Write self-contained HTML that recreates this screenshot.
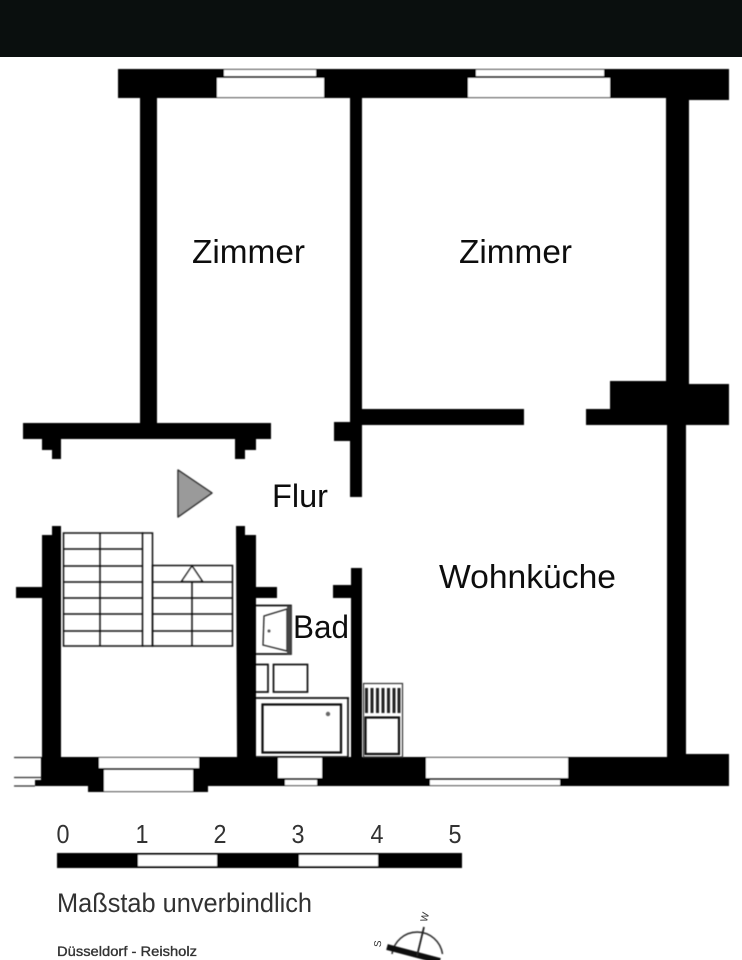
<!DOCTYPE html>
<html><head><meta charset="utf-8">
<style>
html,body{margin:0;padding:0;background:#fff;width:742px;height:960px;overflow:hidden}
svg{display:block}
text{font-family:"Liberation Sans",sans-serif;fill:#111}
.g text,text.g{fill:#333}
</style></head><body>
<svg width="742" height="960" viewBox="0 0 742 960" xmlns="http://www.w3.org/2000/svg">
<defs>
<filter id="b" x="-2%" y="-2%" width="104%" height="104%"><feGaussianBlur stdDeviation="0.45"/></filter>
<filter id="t" x="-5%" y="-5%" width="110%" height="110%"><feGaussianBlur stdDeviation="0.3"/></filter>
</defs>
<rect x="0" y="0" width="742" height="57" fill="#0a0f0e"/>
<g filter="url(#b)">
<!-- top wall -->
<path d="M118 69H729V100H689V98H118Z" fill="#000"/>
<rect x="217" y="78" width="107" height="19" fill="#fff"/>
<rect x="224" y="70" width="92" height="6" fill="#fff"/>
<rect x="468" y="78" width="142" height="19" fill="#fff"/>
<rect x="476" y="70" width="128" height="6" fill="#fff"/>
<!-- vertical walls -->
<rect x="140" y="97" width="17" height="328" fill="#000"/>
<rect x="350" y="97" width="12" height="400" fill="#000"/>
<rect x="666" y="97" width="23" height="290" fill="#000"/>
<rect x="667" y="420" width="19" height="340" fill="#000"/>
<!-- left T -->
<rect x="23" y="423" width="248" height="16" fill="#000"/>
<rect x="42" y="438" width="19" height="12" fill="#000"/>
<rect x="52" y="449" width="9" height="10" fill="#000"/>
<rect x="235" y="438" width="21" height="12" fill="#000"/>
<rect x="235" y="449" width="10" height="10" fill="#000"/>
<!-- centre stubs -->
<rect x="334" y="422" width="18" height="19" fill="#000"/>
<rect x="351" y="568" width="11" height="190" fill="#000"/>
<rect x="333" y="585" width="19" height="13" fill="#000"/>
<!-- horizontal wall -->
<rect x="361" y="409" width="163" height="16" fill="#000"/>
<path d="M586 409H610V381H666V384H729V425H586Z" fill="#000"/>
<!-- stair walls -->
<path d="M52 526H61V758H42V535H52Z" fill="#000"/>
<rect x="16" y="587" width="27" height="11" fill="#000"/>
<path d="M236 526H245V535H256V758H237Z" fill="#000"/>
<rect x="255" y="587" width="22" height="11" fill="#000"/>
<!-- bottom wall -->
<path d="M41 757H667V757H686V754H729V786H208V792H88V786H35V780H41Z" fill="#000"/>
<rect x="99" y="758" width="100" height="10" fill="#fff"/>
<rect x="104" y="770" width="89" height="21" fill="#fff"/>
<rect x="278" y="758" width="44" height="20" fill="#fff"/>
<rect x="285" y="780" width="32" height="5" fill="#fff"/>
<rect x="426" y="758" width="142" height="20" fill="#fff"/>
<rect x="430" y="780" width="130" height="5" fill="#fff"/>
<g stroke="#333" stroke-width="1.3" fill="none">
<path d="M14 757.500H41M14 777.500H41M14 786H35"/>
</g>
<!-- stairs -->
<g stroke="#111" stroke-width="1.5" fill="none">
<rect x="63.500" y="533" width="79" height="113"/>
<path d="M100 533V646"/>
<path d="M63 549H142M63 566H142M63 582H142M63 598H142M63 614H142M63 631H142"/>
<path d="M142 533H152.500V646H142"/>
<rect x="152.500" y="565.500" width="80" height="80.500"/>
<path d="M152 582H232M152 598H232M152 614H232M152 631H232"/>
<path d="M192 566V646"/>
<path d="M192 566L181.500 581.500H202.500Z" fill="#fff"/>
</g>
<polygon points="178,470 212,493 178,517" fill="#9a9a9a" stroke="#333" stroke-width="1.5" stroke-linejoin="round"/>
<!-- Bad fixtures -->
<g stroke="#111" stroke-width="1.7" fill="none">
<path d="M256 605.500H291V654H256"/>
<path d="M264 616L287 609V651L263 645Z" stroke="#222" stroke-width="1.3"/>
<path d="M256 664.500H268V692H256"/>
<rect x="273.500" y="664.500" width="34" height="27.500"/>
<path d="M256 698H349"/>
<path d="M256 757H348V698"/>
<rect x="262.500" y="704.500" width="78.500" height="48" stroke-width="2.200"/>
</g>
<rect x="287" y="606" width="4" height="48" fill="#444"/>
<circle cx="269" cy="631" r="1.500" fill="#555"/>
<circle cx="328" cy="714" r="2.200" fill="#666"/>
<!-- kitchen -->
<rect x="363.500" y="683.500" width="39" height="73.500" fill="none" stroke="#333" stroke-width="1.200"/>
<g fill="#222">
<rect x="365" y="688" width="3" height="25"/><rect x="370.500" y="688" width="3" height="25"/><rect x="376" y="688" width="3" height="25"/><rect x="381.500" y="688" width="3" height="25"/><rect x="387" y="688" width="3" height="25"/><rect x="392.500" y="688" width="3" height="25"/><rect x="397.500" y="688" width="3" height="25"/>
</g>
<rect x="365.500" y="717.500" width="33.500" height="36.500" fill="none" stroke="#111" stroke-width="2.200"/>
<!-- scale -->
<rect x="57" y="853" width="405" height="15" fill="#000"/>
<rect x="138" y="855" width="79" height="11" fill="#fff"/>
<rect x="299" y="855" width="79" height="11" fill="#fff"/>
<!-- compass -->
<path d="M392 960A25.500 25.500 0 0 1 442.500 960" fill="none" stroke="#333" stroke-width="1.600" transform="translate(0 -6)"/>
<path d="M387 947L440 961" stroke="#111" stroke-width="6" fill="none"/>
<path d="M424 927L417 956" stroke="#222" stroke-width="1.800" fill="none"/>
</g>
<!-- labels -->
<g font-size="33.500" filter="url(#t)">
<text x="192" y="263" textLength="113" lengthAdjust="spacingAndGlyphs">Zimmer</text>
<text x="459" y="263" textLength="113" lengthAdjust="spacingAndGlyphs">Zimmer</text>
<text x="272" y="507" font-size="32.500" textLength="56" lengthAdjust="spacingAndGlyphs">Flur</text>
<text x="439" y="588" textLength="177" lengthAdjust="spacingAndGlyphs">Wohnküche</text>
<text x="293" y="638" font-size="32" textLength="56" lengthAdjust="spacingAndGlyphs">Bad</text>
</g>
<g class="g" font-size="26" filter="url(#t)">
<text x="56.500" y="843" textLength="13" lengthAdjust="spacingAndGlyphs">0</text>
<text x="135.500" y="843" textLength="13" lengthAdjust="spacingAndGlyphs">1</text>
<text x="213.500" y="843" textLength="13" lengthAdjust="spacingAndGlyphs">2</text>
<text x="291.500" y="843" textLength="13" lengthAdjust="spacingAndGlyphs">3</text>
<text x="370.500" y="843" textLength="13" lengthAdjust="spacingAndGlyphs">4</text>
<text x="448.500" y="843" textLength="13" lengthAdjust="spacingAndGlyphs">5</text>
<text x="57" y="912" font-size="27" textLength="255" lengthAdjust="spacingAndGlyphs">Maßstab unverbindlich</text>
<text x="57" y="956" font-size="14" textLength="140" lengthAdjust="spacingAndGlyphs" stroke="#333" stroke-width="0.35">Düsseldorf - Reisholz</text>
<text x="0" y="0" font-size="10" text-anchor="middle" transform="translate(428 918) rotate(-75)">W</text>
<text x="0" y="0" font-size="10" text-anchor="middle" transform="translate(381 944) rotate(-85)">S</text>
</g>
</svg>
</body></html>
